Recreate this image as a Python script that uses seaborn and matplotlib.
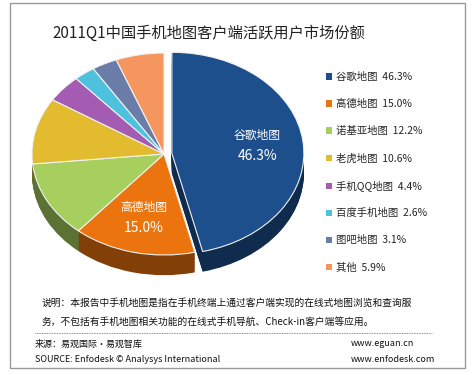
import numpy as np
import matplotlib
matplotlib.use("Agg")
import matplotlib.pyplot as plt
import matplotlib.colors as mcolors
from matplotlib.patches import Rectangle
from matplotlib.lines import Line2D
import seaborn as sns

# data
brands = ["谷歌地图", "高德地图", "诺基亚地图", "老虎地图", "手机QQ地图", "百度手机地图", "图吧地图", "其他"]
shares = [46.3, 15.0, 12.2, 10.6, 4.4, 2.6, 3.1, 5.9]
colors = ["#1c4f8c", "#ec740e", "#a6cf5e", "#e2bb2f", "#a45bb2", "#4dc1de", "#6a7ca8", "#f5965e"]
explode = [0.06, 0, 0, 0, 0, 0, 0, 0]
inner_labels = {0: "谷歌地图", 1: "高德地图"}

sns.set_theme(style="white")
plt.rcParams['font.family'] = ['Noto Sans CJK SC', 'DejaVu Sans']

W, H = 472, 375
fig = plt.figure(figsize=(W / 100, H / 100), dpi=100)
fig.patch.set_facecolor("white")


def px(x, y):
    # pixel (from top-left) -> figure fraction
    return x / W, 1 - y / H


# outer grey frame
fig.patches.append(Rectangle(px(10, 368), 455 / W, 365 / H, transform=fig.transFigure,
                             fill=False, edgecolor="#9a9a9a", linewidth=1.0))

# pie axes: rx ~132px, ry ~101px, centre ~(164,154)
rx, ry = 132, 101
cx, cy = 164, 154
xl, yt, yb = 1.25, 1.2, 1.45
ax = fig.add_axes([(cx - xl * rx) / W, 1 - (cy + yb * ry) / H, 2 * xl * rx / W, (yt + yb) * ry / H])

# side of the "3D" pie: stacked darker copies
depth = 0.2
dark = [tuple(np.array(mcolors.to_rgb(c)) * 0.55) for c in colors]
for k in np.linspace(depth, 0.01, 22):
    ax.pie(shares, colors=dark, startangle=90, counterclock=False, explode=explode,
           center=(0, -k), radius=1, frame=True,
           wedgeprops=dict(linewidth=0))

wedges, _ = ax.pie(shares, colors=colors, startangle=90, counterclock=False, explode=explode,
                   radius=1, frame=True,
                   wedgeprops=dict(linewidth=0.8, edgecolor="#f2f2f2"))
ax.set_aspect("auto")
ax.set_xlim(-xl, xl)
ax.set_ylim(-yb, yt)
ax.set_axis_off()

for i, lab in inner_labels.items():
    w = wedges[i]
    ang = np.deg2rad((w.theta1 + w.theta2) / 2)
    r = 0.65
    x = w.center[0] + r * np.cos(ang)
    y = w.center[1] + r * np.sin(ang)
    ax.text(x, y + 0.1, lab, color="white", fontsize=8.5, ha="center", va="center")
    ax.text(x, y - 0.1, f"{shares[i]:.1f}%", color="white", fontsize=10, ha="center", va="center")

# title
fig.text(*px(52, 33), "2011Q1中国手机地图客户端活跃用户市场份额", fontsize=11,
         ha="left", va="center", color="#222222")

# legend
handles = [Rectangle((0, 0), 1, 1, facecolor=c, edgecolor="none") for c in colors]
labels = [f"{b}  {s:.1f}%" for b, s in zip(brands, shares)]
fig.legend(handles, labels, loc="upper left", bbox_to_anchor=px(326, 72), frameon=False,
           fontsize=7.5, handlelength=0.55, handleheight=0.55, handletextpad=0.4,
           labelspacing=1.63, borderaxespad=0, borderpad=0)

# note
note_kw = dict(fontsize=7, ha="left", va="center", color="#111111")
fig.text(*px(42, 303), "说明：本报告中手机地图是指在手机终端上通过客户端实现的在线式地图浏览和查询服", **note_kw)
fig.text(*px(42, 322), "务，不包括有手机地图相关功能的在线式手机导航、Check-in客户端等应用。", **note_kw)

fig.lines.append(Line2D([35 / W, 432 / W], [1 - 333 / H] * 2, transform=fig.transFigure,
                        color="#666666", linewidth=0.6, linestyle=(0, (1, 1))))

src_kw = dict(fontsize=6.5, ha="left", va="center", color="#111111")
fig.text(*px(35, 344), "来源：易观国际·易观智库", **src_kw)
fig.text(*px(35, 360), "SOURCE: Enfodesk © Analysys International", **src_kw)
fig.text(*px(351, 344), "www.eguan.cn", **src_kw)
fig.text(*px(351, 360), "www.enfodesk.com", **src_kw)

fig.savefig("out.png", dpi=100)
